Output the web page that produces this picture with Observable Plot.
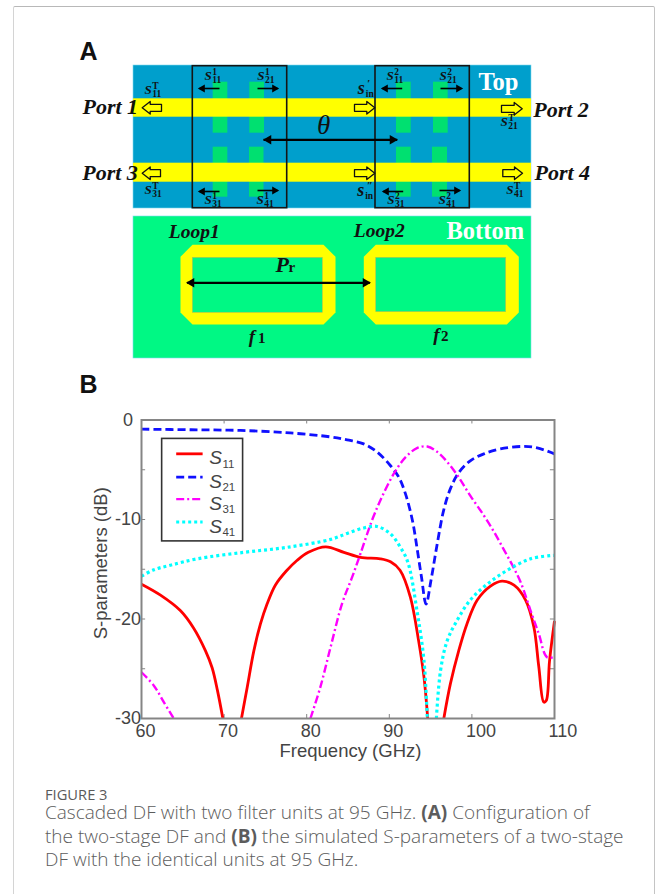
<!DOCTYPE html>
<html>
<head>
<meta charset="utf-8">
<script src="https://cdn.jsdelivr.net/npm/d3@7"></script>
<script src="https://cdn.jsdelivr.net/npm/@observablehq/plot@0.6"></script>
<style>
html,body{margin:0;padding:0;background:#fff;}
#page{position:relative;width:656px;height:894px;overflow:hidden;background:#fff;}
#card{position:absolute;left:13px;top:6px;width:642px;height:920px;border:1.5px solid #d4d4d4;border-top-color:#b8b8b8;border-right-color:#c4c4c4;border-radius:2px;box-sizing:border-box;}
#diagram,#chart{position:absolute;left:0;}
#diagram{top:0;}
#chart{top:400px;}
#caption{position:absolute;left:45px;top:785px;width:600px;color:#666;font-family:"Open Sans",Lato,sans-serif;}
#caption .fig{font-size:14.7px;line-height:18px;color:#5a5a5a;}
#caption .body{font-size:19px;line-height:23.6px;margin-top:-2px;white-space:nowrap;font-weight:300;color:#5c5c5c;}
#caption .body b{font-weight:700;}
svg{display:block;}
</style>
</head>
<body>
<div id="page">
<div id="card"></div>
<div id="diagram"></div>
<div id="chart"></div>
<div id="caption">
<div class="fig">FIGURE 3</div>
<div class="body">Cascaded DF with two filter units at 95 GHz. <b>(A)</b> Configuration of<br>the two-stage DF and <b>(B)</b> the simulated S-parameters of a two-stage<br>DF with the identical units at 95 GHz.</div>
</div>
</div>
<script>
// ---------- Panel B data ----------
const s11Freq = [60,62.3,64.7,66.3,67.75,68.55,69.2,69.85,null,72.1,72.8,73.6,74.4,75.2,76.2,77.5,78.85,80.2,82.3,84.5,86.5,88.9,90.15,91.3,92.55,93.55,94.2,94.65,null,96.6,97.4,98.4,99.4,100.65,102.25,103.65,105.1,106.5,107.5,108.1,108.7,109,109.4,110];
const s11Db   = [-16.5,-17.6,-19.15,-20.9,-23.2,-24.9,-27.2,-30,null,-30,-26.85,-23.2,-20.5,-18.5,-16.6,-15.2,-14.1,-13.3,-12.75,-13.3,-13.8,-13.95,-14.25,-15.1,-17.8,-22.2,-25.85,-30,null,-30,-26.5,-23.2,-20.5,-18.1,-16.7,-16.2,-16.6,-18.1,-20.8,-24.8,-28.35,-28.2,-24.2,-20.2];
const s21Freq = [60,66,72,78,82.9,84.9,86.9,88.5,90.15,91.15,91.95,92.8,93.4,93.9,94.45,95.05,95.8,96.6,97.4,98.4,99.8,101.45,103.45,106.1,107.9,110];
const s21Db   = [-0.92,-0.98,-1.05,-1.3,-1.7,-2,-2.4,-3.2,-4.6,-5.75,-7.4,-10.1,-13.1,-15.8,-18.5,-16.1,-12.45,-9,-6.9,-5.3,-4.1,-3.4,-2.9,-2.66,-2.8,-3.4];
const s31Freq = [60,61.5,62.7,63.9,null,80.45,81.65,82.9,84.3,85.5,86.5,87.9,89.1,90.55,91.95,93.35,94.6,95.8,97,98.4,99.8,101.45,102.65,103.85,104.9,105.9,107.1,108.1,109.1,110];
const s31Db   = [-25.35,-26.7,-28.35,-30,null,-30,-26.85,-22.8,-18.4,-15.8,-13.45,-10.1,-7.75,-5.4,-3.75,-2.83,-2.66,-3.2,-4.2,-5.75,-7.6,-9.6,-11.2,-13,-14.6,-16.3,-19.15,-21.5,-23.85,-23.8];
const s41Freq = [60,61.5,63.5,66.75,72.4,77.6,82.9,84.9,86.9,88.5,90.15,91.35,92.25,93.35,94.2,94.6,null,95.7,96.2,97,98.2,99.8,101.85,104.3,107.1,109.9];
const s41Db   = [-15.7,-15.05,-14.6,-13.95,-13.3,-12.8,-12,-11.4,-10.85,-10.7,-11.45,-12.8,-14.3,-19.15,-24.2,-30,null,-30,-25.2,-22.2,-20.15,-18.1,-16.5,-15.1,-13.95,-13.6];
const xTickLabels = [60,70,80,90,100,110];
const yTickLabels = [0,-10,-20,-30];
const xMinor = [60,70,80,90,100,110];
const yMinor = [0,-5,-10,-15,-20,-25,-30];
const legendNames = ["11","21","31","41"];
const legendY = [-3.4,-5.75,-7.95,-10.25];

// ---------- Panel A schematic, in picture units ----------
const boards = [[133,65,531,208,"#009fcc"],[133,216,531,358,"#00f884"]];
const stubs = [[212.7,227.3,81.7,132.7],[249.3,264,81.7,132.7],[396,410.7,81.7,132.7],[433,447.7,81.7,132.7],
               [212.7,227.3,146.7,196.7],[249,263.5,146.7,196.7],[396,410.7,146.7,196.7],[432,447,146.7,196.7]];
const strips = [[133,531,98.3,116.7],[133,531,162.7,181.7]];
const frames = [[192.3,286.7,65.7,207.7],[375,469.3,65.7,207.7]];
const rings = [[180,335,244.3,324,192.3,322.3,257.3,312.3],[363.3,518.3,244.3,324,375.7,505.7,257.3,311.7]];
const shafts = [[263,139.3,396.7,139.3,2.2],[186.7,282.3,369.3,282.3,2.2],
  [219,88,199,88,1.6],[257,88,277,88,1.6],[219,191,199,191,1.6],[257,190,277,190,1.6],
  [401.7,88,382,88,1.6],[440,88,460.7,88,1.6],[402.7,191,382.7,191,1.6],[439,190,459,190,1.6]];
const heads = [[268,139.3,-90,5],[392,139.3,90,5],[191,282.3,-90,5],[365,282.3,90,5],
  [202,88,-90,3.6],[274,88,90,3.6],[202,191,-90,3.6],[274,190,90,3.6],
  [385,88,-90,3.6],[458,88,90,3.6],[386,191,-90,3.6],[456,190,90,3.6]];
const blockArrows = [[161,141.7,107.3],[160,141.7,172.7],[354,374.3,107.3],[354,374.3,172.7],[501,521.7,108.3],[502.3,522,172.7]];
const sLabels = [[204,79.3,"1","11"],[256.7,79.3,"1","21"],[144,93,"T","11"],[144,193.3,"T","31"],[204,203.3,"1","31"],[256,203.3,"1","41"],
  [386,79.3,"2","11"],[439,79.3,"2","21"],[357.3,93.3,"\u2032","in"],[356.7,195,"\u2033","in"],[500,125,"T","21"],[505.7,193.3,"T","41"],[386.7,203.3,"2","31"],[438,203.3,"2","41"]];
const schemaTexts = [
  ["Port 1",82,113,22,"#111","italic","bold"],["Port 3",81.7,179,22,"#111","italic","bold"],["Port 2",532.7,116,22,"#111","italic","bold"],["Port 4",534,179,22,"#111","italic","bold"],
  ["Top",478,89,24.5,"#fff","normal","bold"],["Bottom",446,238.3,24.5,"#fff","normal","bold"],["\u03b8",316.5,133,27,"#111","italic","normal"],
  ["Loop1",168.3,237.3,19.5,"#111","italic","bold"],["Loop2",353.3,236.7,19.5,"#111","italic","bold"],
  ["P",275,271,22,"#111","italic","bold"],["r",288,271,15,"#111","normal","bold"],
  ["f",248.3,342,19,"#111","italic","bold"],["1",257.5,342,15,"#111","normal","bold"],["f",432.7,340.7,19,"#111","italic","bold"],["2",440.5,340.7,15,"#111","normal","bold"]];
const panelLetters = [["A",79,59],["B",79,392]];

const SERIF = '"Liberation Serif",serif';
const SANS = '"Liberation Sans",sans-serif';

// polygon outlines derived from the schematic tables
const ringPoly = rings.flatMap((r,i)=>{const [a,b,c,d]=r,k=12;
  return [[a+k,c],[b-k,c],[b,c+k],[b,d-k],[b-k,d],[a+k,d],[a,d-k],[a,c+k],[a+k,c]].map(p=>({x:p[0],y:p[1],i}));});
const arrowPoly = blockArrows.flatMap((r,i)=>{const [from,tip,y]=r,s=Math.sign(tip-from),n=8*s,h=3.5,w=6.3;
  return [[from,y-h],[tip-n,y-h],[tip-n,y-w],[tip,y],[tip-n,y+w],[tip-n,y+h],[from,y+h],[from,y-h]].map(p=>({x:p[0],y:p[1],i}));});
const isIn = d=>d[3]==="in";

const diagram = Plot.plot({
  width:656,height:400,margin:0,
  x:{domain:[0,656],range:[0,656],axis:null},
  y:{domain:[0,400],range:[0,400],axis:null},
  marks:[
    Plot.rect(boards,{x1:d=>d[0],y1:d=>d[1],x2:d=>d[2],y2:d=>d[3],fill:d=>d[4],stroke:"#7fd9ef",strokeWidth:0.6}),
    Plot.rect(stubs,{x1:d=>d[0],x2:d=>d[1],y1:d=>d[2],y2:d=>d[3],fill:"#00e070"}),
    Plot.rect(strips,{x1:d=>d[0],x2:d=>d[1],y1:d=>d[2],y2:d=>d[3],fill:"#ffff00"}),
    Plot.line(ringPoly,{x:"x",y:"y",z:"i",fill:"#ffff00",stroke:"none"}),
    Plot.rect(rings,{x1:d=>d[4],x2:d=>d[5],y1:d=>d[6],y2:d=>d[7],fill:"#00f884",stroke:"#b9c24a",strokeWidth:0.6}),
    Plot.rect(frames,{x1:d=>d[0],x2:d=>d[1],y1:d=>d[2],y2:d=>d[3],fill:"none",stroke:"#151515",strokeWidth:1.6}),
    Plot.line(arrowPoly,{x:"x",y:"y",z:"i",fill:"#ffff00",stroke:"#111",strokeWidth:1.3}),
    Plot.link(shafts,{x1:d=>d[0],y1:d=>d[1],x2:d=>d[2],y2:d=>d[3],strokeWidth:d=>d[4],stroke:"#000"}),
    Plot.dot(heads,{x:d=>d[0],y:d=>d[1],rotate:d=>d[2],r:d=>d[3],symbol:"triangle",fill:"#000",stroke:"none"}),
    // schematic words
    ...schemaTexts.map(t=>Plot.text([t],{x:d=>d[1],y:d=>d[2],text:d=>d[0],textAnchor:"start",lineAnchor:"bottom",fontFamily:SERIF,fontWeight:t[6],fontSize:t[3],fill:t[4],fontStyle:t[5]})),
    // S labels: base letter, superscript, subscript
    Plot.text(sLabels.filter(d=>!isIn(d)),{x:d=>d[0],y:d=>d[1],text:()=>"S",textAnchor:"start",lineAnchor:"bottom",fontFamily:SERIF,fontWeight:"bold",fontStyle:"italic",fontSize:13,fill:"#111"}),
    Plot.text(sLabels.filter(isIn),{x:d=>d[0],y:d=>d[1],text:()=>"s",textAnchor:"start",lineAnchor:"bottom",fontFamily:SERIF,fontWeight:"bold",fontStyle:"italic",fontSize:18,fill:"#111"}),
    Plot.text(sLabels.filter(d=>!isIn(d)),{x:d=>d[0]+7.7,y:d=>d[1]-5,text:d=>d[2],textAnchor:"start",lineAnchor:"bottom",fontFamily:SERIF,fontWeight:"bold",fontStyle:d=>d[2]==="T"?"italic":"normal",fontSize:9.5,fill:"#111"}),
    Plot.text(sLabels.filter(isIn),{x:d=>d[0]+9.5,y:d=>d[1]-7,text:d=>d[2],textAnchor:"start",lineAnchor:"bottom",fontFamily:SERIF,fontWeight:"bold",fontSize:11,fill:"#111"}),
    Plot.text(sLabels,{x:d=>d[0]+(isIn(d)?8:7.7),y:d=>d[1]+3.4,text:d=>d[3],textAnchor:"start",lineAnchor:"bottom",fontFamily:SERIF,fontWeight:"bold",fontSize:9.5,fill:"#111"}),
    Plot.text(panelLetters,{x:d=>d[1],y:d=>d[2],text:d=>d[0],textAnchor:"start",lineAnchor:"bottom",fontFamily:SANS,fontWeight:"bold",fontSize:25,fill:"#111"})
  ]
});
document.getElementById("diagram").appendChild(diagram);

// ---------- Panel B chart ----------
const GRAY = "#858585", INK = "#444";
const rows = (xs,ys)=>xs.map((x,i)=>({x,y:ys[i]}));
const lineStyles = [
  {stroke:"#ff0000",strokeWidth:2.8,strokeDasharray:null},
  {stroke:"#1010ff",strokeWidth:2.8,strokeDasharray:"8,4"},
  {stroke:"#ff00ff",strokeWidth:2.4,strokeDasharray:"8,3,2,3"},
  {stroke:"#00ffff",strokeWidth:3.2,strokeDasharray:"3,3"}
];
const series = [rows(s11Freq,s11Db),rows(s21Freq,s21Db),rows(s31Freq,s31Db),rows(s41Freq,s41Db)];

const chart = Plot.plot({
  width:656,height:380,
  marginLeft:141,marginRight:102,marginTop:19.5,marginBottom:62,
  x:{domain:[60,110],axis:null},
  y:{domain:[-30,0],axis:null},
  style:{overflow:"visible"},
  marks:[
    // inward ticks on all four sides
    Plot.ruleY(yMinor,{x1:60,x2:60.5,stroke:GRAY,strokeWidth:1}),
    Plot.ruleY(yMinor,{x1:109.5,x2:110,stroke:GRAY,strokeWidth:1}),
    Plot.ruleX(xMinor,{y1:-30,y2:-29.6,stroke:GRAY,strokeWidth:1}),
    Plot.ruleX(xMinor,{y1:0,y2:-0.4,stroke:GRAY,strokeWidth:1}),
    // series, in the source's plotting order
    ...[0,1,2,3].map(i=>Plot.line(series[i],{x:"x",y:"y",defined:d=>d.x!=null,curve:"catmull-rom",strokeLinecap:"butt",...lineStyles[i]})),
    Plot.frame({stroke:GRAY,strokeWidth:2}),
    Plot.text(xTickLabels,{x:d=>d,y:-30,dx:-6,dy:13,text:d=>String(d),textAnchor:"start",lineAnchor:"middle",fontSize:18,fontFamily:SANS,fill:INK}),
    Plot.text(yTickLabels,{x:60,y:d=>d,dx:-13.5,text:d=>String(d),textAnchor:"middle",lineAnchor:"middle",fontSize:18,fontFamily:SANS,fill:INK}),
    Plot.text(["Frequency (GHz)"],{x:85.3,y:-30,dy:33,lineAnchor:"middle",fontSize:18.5,fontFamily:SANS,fill:INK}),
    Plot.text(["S-parameters (dB)"],{x:60,y:-14.4,dx:-40,rotate:-90,lineAnchor:"middle",fontSize:18.5,fontFamily:SANS,fill:INK}),
    // legend
    Plot.rect([0],{x1:62.5,x2:72.3,y1:-1.9,y2:-12.2,fill:"#fff",stroke:"#333",strokeWidth:1.6}),
    ...legendNames.map((n,i)=>Plot.line([[64.2,legendY[i]],[67.4,legendY[i]]],{strokeLinecap:"butt",...lineStyles[i]})),
    Plot.text(legendNames,{x:68.2,y:(d,i)=>legendY[i],dy:4.5,text:()=>"S",textAnchor:"start",lineAnchor:"middle",fontStyle:"italic",fontFamily:SANS,fontSize:19,fill:INK}),
    Plot.text(legendNames,{x:69.8,y:(d,i)=>legendY[i],dy:10,text:d=>d,textAnchor:"start",lineAnchor:"middle",fontFamily:SANS,fontSize:11.5,fill:INK})
  ]
});
document.getElementById("chart").appendChild(chart);
</script>
</body>
</html>
